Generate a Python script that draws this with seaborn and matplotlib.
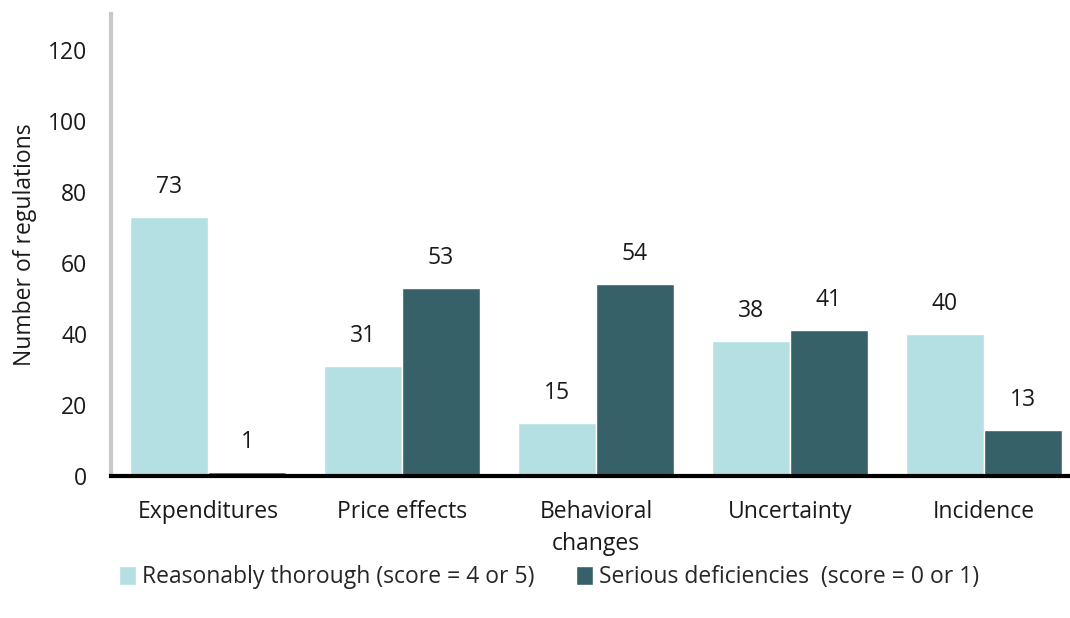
import pandas as pd
import matplotlib.pyplot as plt
import seaborn as sns

# Dados
categorias = ["Expenditures", "Price effects", "Behavioral\nchanges", "Uncertainty", "Incidence"]
thorough = [73, 31, 15, 38, 40]
deficient = [1, 53, 54, 41, 13]
series = ["Reasonably thorough (score = 4 or 5)", "Serious deficiencies  (score = 0 or 1)"]
yticks = [0, 20, 40, 60, 80, 100, 120]

df = pd.DataFrame({
    "categoria": categorias * 2,
    "valor": thorough + deficient,
    "serie": [series[0]] * 5 + [series[1]] * 5,
})

sns.set_style("white")
plt.rcParams["font.family"] = ["Open Sans", "DejaVu Sans"]

fig = plt.figure(figsize=(10.7, 6.18), dpi=100)
# o eixo passa um pouco da borda direita, como no original
ax = fig.add_axes([0.1037, 0.2298, 0.9065, 0.747])

sns.barplot(data=df, x="categoria", y="valor", hue="serie",
            palette=["#b4e0e3", "#376168"], width=0.804, saturation=1,
            gap=0, ax=ax, legend=True)

for cont in ax.containers:
    ax.bar_label(cont, padding=13, fontsize=16.5, color="#1a1a1a")

ax.set_ylim(0, 130)
ax.set_xlim(-0.5, 4.5)
ax.set_yticks(yticks)
ax.tick_params(axis="y", length=6, width=2, color="#c8c8c8", labelsize=16.5, pad=11,
               labelcolor="#1a1a1a")
ax.tick_params(axis="x", length=0, labelsize=16.5, pad=17, labelcolor="#1a1a1a")
for lbl in ax.get_xticklabels():
    lbl.set_linespacing(1.45)
ax.set_xlabel("")
ax.set_ylabel("Number of regulations", fontsize=16.5, labelpad=8, color="#1a1a1a")

sns.despine(ax=ax, top=True, right=True)
ax.spines["left"].set_color("#c8c8c8")
ax.spines["left"].set_linewidth(3)
ax.spines["bottom"].set_color("black")
ax.spines["bottom"].set_linewidth(3)

handles, labels = ax.get_legend_handles_labels()
ax.get_legend().remove()
fig.legend(handles, labels, loc="center", bbox_to_anchor=(0.513, 0.066),
           ncol=2, frameon=False, fontsize=16.5, handlelength=0.75, handleheight=0.9,
           handletextpad=0.25, columnspacing=1.8)

plt.savefig("out.png", dpi=100)
plt.close()
